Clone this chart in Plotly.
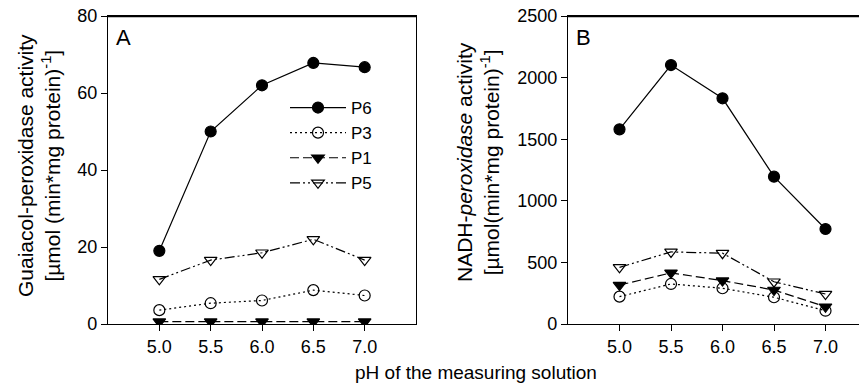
import plotly.graph_objects as go

ph = [5.0, 5.5, 6.0, 6.5, 7.0]
series_names = ["P6", "P3", "P1", "P5"]
guaiacol = {
    "P6": [19.0, 50.0, 62.0, 67.8, 66.7],
    "P3": [3.6, 5.4, 6.1, 8.8, 7.4],
    "P1": [0.6, 0.6, 0.6, 0.6, 0.6],
    "P5": [11.6, 16.6, 18.5, 22.0, 16.6],
}
nadh = {
    "P6": [1580, 2102, 1832, 1196, 771],
    "P3": [222, 325, 290, 217, 108],
    "P1": [316, 415, 352, 276, 140],
    "P5": [460, 585, 575, 343, 243],
}
x_ticks = [5.0, 5.5, 6.0, 6.5, 7.0]
x_ticklabels = ["5.0", "5.5", "6.0", "6.5", "7.0"]

styles = {
    "P6": dict(dash="solid", symbol="circle"),
    "P3": dict(dash="2px,3px", symbol="circle-open"),
    "P1": dict(dash="9px,4px", symbol="triangle-down"),
    "P5": dict(dash="10px,3px,2px,3px,2px,3px", symbol="triangle-down-open"),
}

OFF = 8  # page body margin offset
W, H = 867 - OFF, 387 - OFF
FONT = "Liberation Sans, Arial, sans-serif"

fig = go.Figure()
for name in series_names:
    st = styles[name]
    for data, xa, ya, show in [(guaiacol, "x", "y", True), (nadh, "x2", "y2", False)]:
        fig.add_trace(go.Scatter(
            x=ph, y=data[name], name=name, xaxis=xa, yaxis=ya, showlegend=show,
            mode="lines+markers",
            line=dict(color="black", width=1.2, dash=st["dash"]),
            marker=dict(symbol=st["symbol"], size=11, color="black",
                        line=dict(color="black", width=1.2)),
        ))

ML, MR, MT, MB = 108 - OFF, 0, 16 - OFF, H - (324 - OFF)
PW, PH = W - ML - MR, H - MT - MB

def px_x(p):
    return (p - OFF - ML) / PW

def px_y(p):
    return 1 - (p - OFF - MT) / PH

axis_common = dict(showgrid=False, zeroline=False, showline=True, linecolor="black",
                   linewidth=1.3, ticks="outside", ticklen=6, tickcolor="black",
                   tickwidth=1.3, ticklabeloverflow="allow",
                   tickfont=dict(size=18, color="black", family=FONT))

frame_lines = [
    dict(type="line", xref="paper", yref="paper", x0=px_x(108), x1=px_x(416),
         y0=px_y(16.5), y1=px_y(16.5), layer="above", line=dict(color="black", width=1.5)),
    dict(type="line", xref="paper", yref="paper", x0=px_x(568), x1=1.0,
         y0=px_y(16.5), y1=px_y(16.5), layer="above", line=dict(color="black", width=1.5)),
]

fig.update_layout(
    width=W, height=H,
    margin=dict(l=ML, r=MR, t=MT, b=MB, autoexpand=False),
    paper_bgcolor="white", plot_bgcolor="white",
    font=dict(family=FONT, color="black", size=18),
    xaxis=dict(domain=[0, px_x(416)], range=[4.5, 7.5], tickvals=x_ticks,
               ticktext=x_ticklabels, anchor="y", mirror=True, **axis_common),
    yaxis=dict(domain=[0, 1], range=[0, 80], tickvals=[0, 20, 40, 60, 80],
               mirror=True, anchor="x", **axis_common),
    xaxis2=dict(domain=[px_x(568), 1.0], range=[4.5, 4.5 + (867 - 568) / 103.0],
                tickvals=x_ticks, ticktext=x_ticklabels, anchor="y2", mirror=True,
                **axis_common),
    yaxis2=dict(domain=[0, 1], range=[0, 2500], tickvals=[0, 500, 1000, 1500, 2000, 2500],
                anchor="x2", **axis_common),
    shapes=frame_lines,
    legend=dict(x=px_x(285), y=px_y(90), xanchor="left", yanchor="top",
                bgcolor="rgba(0,0,0,0)", font=dict(size=17, family=FONT),
                itemwidth=56, tracegroupgap=0),
    annotations=[
        dict(text="A", x=px_x(114), y=px_y(38), xref="paper", yref="paper",
             xanchor="left", yanchor="middle", showarrow=False, font=dict(size=22)),
        dict(text="B", x=px_x(574), y=px_y(38), xref="paper", yref="paper",
             xanchor="left", yanchor="middle", showarrow=False, font=dict(size=22)),
        dict(text="Guaiacol-peroxidase activity<br>[µmol (min*mg protein)<sup>-1</sup>]",
             x=px_x(39), y=px_y(166), xref="paper", yref="paper", textangle=-90,
             xanchor="center", yanchor="middle", showarrow=False, font=dict(size=21)),
        dict(text="NADH-<i>peroxidase</i> activity<br>[µmol(min*mg protein)<sup>-1</sup>]",
             x=px_x(478), y=px_y(162), xref="paper", yref="paper", textangle=-90,
             xanchor="center", yanchor="middle", showarrow=False, font=dict(size=21)),
        dict(text="pH of the measuring solution", x=px_x(476), y=px_y(372),
             xref="paper", yref="paper", xanchor="center", yanchor="middle",
             showarrow=False, font=dict(size=19)),
    ],
)

fig.write_html("out.html", config={"displayModeBar": False})
